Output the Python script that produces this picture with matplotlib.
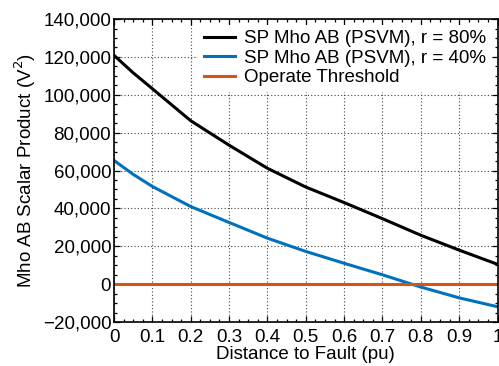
import matplotlib
matplotlib.use('Agg')
import matplotlib.pyplot as plt
from matplotlib.ticker import FuncFormatter, AutoMinorLocator

plt.rcParams['font.family'] = ['Liberation Sans', 'DejaVu Sans']

# distance to fault (pu) and scalar product values (V^2)
dist = [0, 0.05, 0.1, 0.2, 0.3, 0.4, 0.5, 0.6, 0.7, 0.8, 0.9, 1.0]
sp_r80 = [120800, 111600, 103200, 86300, 73400, 61200, 51300, 43100, 34600, 25850, 18000, 10500]
sp_r40 = [65300, 58000, 51600, 41000, 32600, 24300, 17300, 11050, 4960, -1500, -7200, -11900]
threshold = [0, 0]
thr_x = [0, 1.0]

labels = ['SP Mho AB (PSVM), r = 80%', 'SP Mho AB (PSVM), r = 40%', 'Operate Threshold']
yticks = [-20000, 0, 20000, 40000, 60000, 80000, 100000, 120000, 140000]
xticks = [0, 0.1, 0.2, 0.3, 0.4, 0.5, 0.6, 0.7, 0.8, 0.9, 1]

FS = 13.5

fig = plt.figure(figsize=(4.99, 3.66), dpi=100)
ax = fig.add_axes([0.2285, 0.120, 0.7685, 0.828])

ax.plot(dist, sp_r80, color='black', lw=2.2, label=labels[0])
ax.plot(dist, sp_r40, color='#0072BD', lw=2.2, label=labels[1])
ax.plot(thr_x, threshold, color='#D95319', lw=2.2, label=labels[2])

ax.set_xlim(0, 1)
ax.set_ylim(-20000, 140000)
ax.set_xticks(xticks)
ax.set_yticks(yticks)
ax.set_xticklabels([f'{v:g}' for v in xticks])
ax.yaxis.set_major_formatter(FuncFormatter(lambda v, p: f'{int(v):,}'.replace('-', '\u2212')))
ax.xaxis.set_minor_locator(AutoMinorLocator(4))
ax.yaxis.set_minor_locator(AutoMinorLocator(4))
ax.tick_params(which='both', direction='in', top=True, right=True, labelsize=FS, width=0.9)
ax.tick_params(which='major', length=4)
ax.tick_params(axis='y', which='major', pad=2)
ax.tick_params(axis='x', which='major', pad=5)
ax.tick_params(which='minor', length=2)
for s in ax.spines.values():
    s.set_linewidth(1.2)

ax.grid(True, which='major', linestyle=(0, (1, 2)), color='#444444', lw=0.8)

ax.set_xlabel('Distance to Fault (pu)', fontsize=FS, labelpad=0)
ax.set_ylabel('Mho AB Scalar Product (V$^2$)', fontsize=FS, labelpad=3)

leg = ax.legend(loc='upper right', fontsize=FS, frameon=True, fancybox=False,
                handlelength=1.65, handletextpad=0.5, labelspacing=0.12,
                borderaxespad=0.3, borderpad=0.3)
leg.get_frame().set_edgecolor('none')
leg.get_frame().set_facecolor('white')
leg.get_frame().set_alpha(1)

fig.savefig('out.png', dpi=100)
